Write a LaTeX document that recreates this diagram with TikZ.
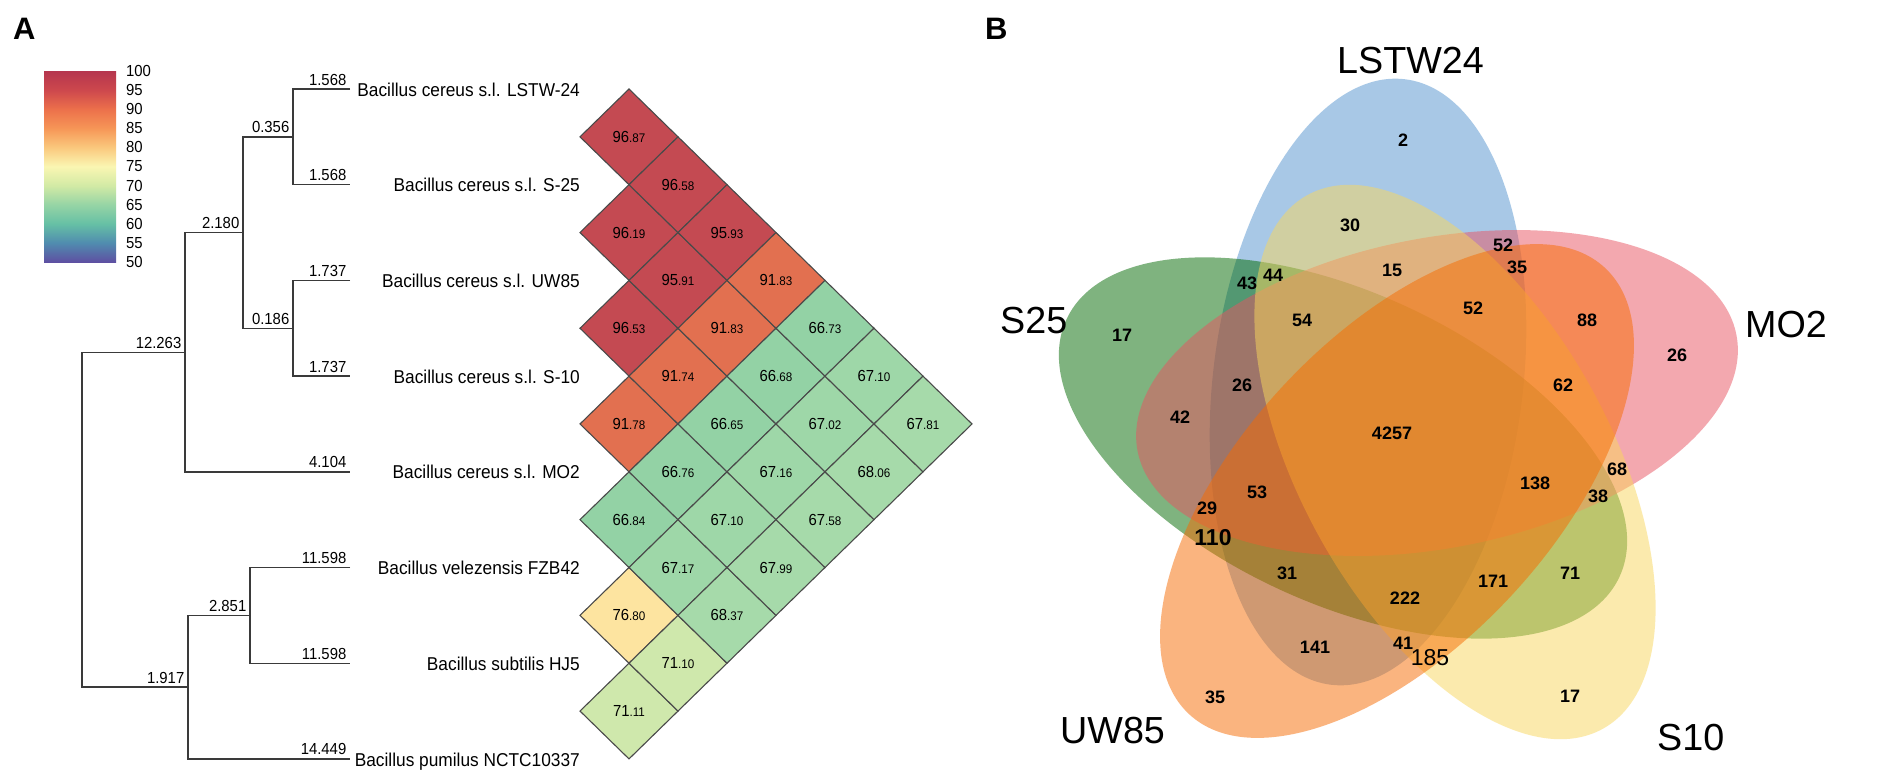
\documentclass[tikz,border=0pt]{standalone}
\usepackage{fontspec}
\setmainfont{Liberation Sans}
\newfontfamily\cond[FakeStretch=0.93]{Liberation Sans}
\definecolor{s100}{RGB}{181,54,78}
\definecolor{s95}{RGB}{205,72,77}
\definecolor{s90}{RGB}{236,112,75}
\definecolor{s85}{RGB}{246,150,87}
\definecolor{s80}{RGB}{250,200,125}
\definecolor{s75}{RGB}{250,246,178}
\definecolor{s70}{RGB}{210,234,165}
\definecolor{s65}{RGB}{150,212,165}
\definecolor{s60}{RGB}{102,192,165}
\definecolor{s55}{RGB}{80,140,175}
\definecolor{s50}{RGB}{94,80,162}
\pgfdeclareverticalshading{spectralbar}{100bp}{color(0bp)=(s50); color(25bp)=(s50); color(30bp)=(s55); color(35bp)=(s60); color(40bp)=(s65); color(45bp)=(s70); color(50bp)=(s75); color(55bp)=(s80); color(60bp)=(s85); color(65bp)=(s90); color(70bp)=(s95); color(75bp)=(s100); color(100bp)=(s100)}
\definecolor{hr}{HTML}{C44A52}
\definecolor{ho}{HTML}{E27050}
\definecolor{hgA}{HTML}{93D2A5}
\definecolor{hgB}{HTML}{9ED7A8}
\definecolor{hgC}{HTML}{A6DAAA}
\definecolor{hy}{HTML}{FDE4A0}
\definecolor{hl}{HTML}{CFE8AC}
\definecolor{treec}{HTML}{3A3A3A}
\definecolor{cellb}{HTML}{4A4A4A}
\definecolor{vblue}{RGB}{83,147,207}
\definecolor{vgreen}{RGB}{0,105,0}
\definecolor{vpink}{RGB}{233,83,97}
\definecolor{vyellow}{RGB}{249,215,93}
\definecolor{vorange}{RGB}{247,107,0}
\begin{document}
\begin{tikzpicture}[x=1pt,y=-1pt,
  tree/.style={draw=treec, line width=1.4pt},
  blen/.style={font=\cond\fontsize{16}{16}\selectfont, inner sep=0pt, anchor=base east},
  spec/.style={font=\cond\fontsize{18.6}{18.6}\selectfont, inner sep=0pt, anchor=base east},
  cbl/.style={font=\cond\fontsize{16}{16}\selectfont, inner sep=0pt, anchor=west},
  celltxt/.style={inner sep=0pt, text=black},
  cellpath/.style={draw=cellb, line width=1.1pt},
  panel/.style={font=\bfseries\fontsize{31}{31}\selectfont, inner sep=0pt, anchor=base west},
  setlab/.style={font=\fontsize{37.7}{37.7}\selectfont, inner sep=0pt, anchor=base west},
  vn/.style={font=\bfseries\fontsize{18}{18}\selectfont, inner sep=0pt},
  venn/.style={fill opacity=0.5}
]
\useasboundingbox (0,0) rectangle (1904,779);
\fill[white] (0,0) rectangle (1904,779);

% ---------- Panel A ----------
\node[panel] (labA) at (13,39) {A};

% colour bar
\path[shading=spectralbar] (44,71) rectangle (116,262);
\foreach \v [count=\k from 0] in {100,95,90,85,80,75,70,65,60,55,50}{
  \node[cbl] (cb\v) at (126,71+\k*19.1) {\v};
}

% leaves
\foreach \k in {0,...,7}{
  \coordinate (L\k) at (350,89+\k*95.7);
}
\coordinate (n01) at (293,136.85);
\coordinate (n23) at (293,328.25);
\coordinate (n0123) at (243,232.55);
\coordinate (n01234) at (185,352.2);
\coordinate (n56) at (250,615.35);
\coordinate (n567) at (188,687.1);
\coordinate (root) at (82,519.65);

\draw[tree] (L0) -| (n01) |- (L1);
\draw[tree] (L2) -| (n23) |- (L3);
\draw[tree] (n01) -| (n0123) |- (n23);
\draw[tree] (n0123) -| (n01234) |- (L4);
\draw[tree] (L5) -| (n56) |- (L6);
\draw[tree] (n56) -| (n567) |- (L7);
\draw[tree] (n01234) -| (root) |- (n567);

% branch lengths
\node[blen] (b0) at (346.5,85) {1.568};
\node[blen] (b1) at (346.5,180.7) {1.568};
\node[blen] (b2) at (346.5,276.4) {1.737};
\node[blen] (b3) at (346.5,372.1) {1.737};
\node[blen] (b4) at (346.5,467.8) {4.104};
\node[blen] (b5) at (346.5,563.5) {11.598};
\node[blen] (b6) at (346.5,659.2) {11.598};
\node[blen] (b7) at (346.5,754.9) {14.449};
\node[blen] (bn01) at (289.5,132.85) {0.356};
\node[blen] (bn23) at (289.5,324.25) {0.186};
\node[blen] (bn0123) at (239.5,228.55) {2.180};
\node[blen] (bn01234) at (181.5,348.2) {12.263};
\node[blen] (bn56) at (246.5,611.35) {2.851};
\node[blen] (bn567) at (184.5,683.1) {1.917};

% species
\node[spec] (sp0) at (580,96) {Bacillus cereus s.l. LSTW-24};
\node[spec] (sp1) at (580,191.7) {Bacillus cereus s.l. S-25};
\node[spec] (sp2) at (580,287.4) {Bacillus cereus s.l. UW85};
\node[spec] (sp3) at (580,383.1) {Bacillus cereus s.l. S-10};
\node[spec] (sp4) at (580,478.8) {Bacillus cereus s.l. MO2};
\node[spec] (sp5) at (580,574.5) {Bacillus velezensis FZB42};
\node[spec] (sp6) at (580,670.2) {Bacillus subtilis HJ5};
\node[spec] (sp7) at (580,766.4) {Bacillus pumilus NCTC10337};

% heat map
\foreach \i/\j/\a/\b/\c in {
 0/1/96/87/hr, 1/2/96/19/hr, 2/3/96/53/hr, 3/4/91/78/ho, 4/5/66/84/hgA, 5/6/76/80/hy, 6/7/71/11/hl,
 0/2/96/58/hr, 1/3/95/91/hr, 2/4/91/74/ho, 3/5/66/76/hgA, 4/6/67/17/hgB, 5/7/71/10/hl,
 0/3/95/93/hr, 1/4/91/83/ho, 2/5/66/65/hgA, 3/6/67/10/hgB, 4/7/68/37/hgC,
 0/4/91/83/ho, 1/5/66/68/hgA, 2/6/67/16/hgB, 3/7/67/99/hgC,
 0/5/66/73/hgA, 1/6/67/02/hgB, 2/7/67/58/hgC,
 0/6/67/10/hgB, 1/7/68/06/hgC,
 0/7/67/81/hgC}{
  \pgfmathsetmacro\cx{580+(\j-\i)*49}
  \pgfmathsetmacro\cy{89+(\i+\j)*47.85}
  \path[cellpath, fill=\c] (\cx-49,\cy) -- (\cx,\cy-47.85) -- (\cx+49,\cy) -- (\cx,\cy+47.85) -- cycle;
  \node[celltxt] (c\i\j) at (\cx,\cy) {\cond{\fontsize{16}{16}\selectfont\a}{\fontsize{12.5}{12.5}\selectfont.\b}};
}

% ---------- Panel B ----------
\node[panel] (labB) at (985,39) {B};

\fill[venn, fill=vblue, rotate around={83:(1368,382)}] (1368,382) ellipse [x radius=305pt, y radius=155pt];
\fill[venn, fill=vgreen, rotate around={155:(1343,448)}] (1343,448) ellipse [x radius=305pt, y radius=155pt];
\fill[venn, fill=vpink, rotate around={11:(1437,393)}] (1437,393) ellipse [x radius=305pt, y radius=155pt];
\fill[venn, fill=vyellow, rotate around={-61:(1455,462)}] (1455,462) ellipse [x radius=305pt, y radius=155pt];
\fill[venn, fill=vorange, rotate around={227:(1397,491)}] (1397,491) ellipse [x radius=305pt, y radius=155pt];

\node[setlab] (tLSTW) at (1337,73) {LSTW24};
\node[setlab] (tS25) at (1000,333) {S25};
\node[setlab] (tMO2) at (1745,337) {MO2};
\node[setlab] (tUW85) at (1060,743) {UW85};
\node[setlab] (tS10) at (1657,750) {S10};

\foreach \n/\x/\y in {a/1403/140, b/1350/225, c/1392/270, d/1247/283, e/1273/275, f/1302/320,
  g/1473/308, h/1122/335, i/1242/385, j/1503/245, k/1517/267, l/1587/320, m/1677/355,
  n/1563/385, o/1180/417, p/1392/433, q/1257/492, r/1207/508, s/1287/573, t/1405/598,
  u/1315/647, v/1403/643, w/1215/697, x/1617/469, y/1598/496, z/1535/483, A/1570/573,
  B/1493/581, C/1570/696}{
  \coordinate (p\n) at (\x,\y);
}
\node[vn] (v2) at (pa) {2};
\node[vn] (v30) at (pb) {30};
\node[vn] (v15) at (pc) {15};
\node[vn] (v43) at (pd) {43};
\node[vn] (v44) at (pe) {44};
\node[vn] (v54) at (pf) {54};
\node[vn] (v52a) at (pg) {52};
\node[vn] (v17a) at (ph) {17};
\node[vn] (v26a) at (pi) {26};
\node[vn] (v52b) at (pj) {52};
\node[vn] (v35a) at (pk) {35};
\node[vn] (v88) at (pl) {88};
\node[vn] (v26b) at (pm) {26};
\node[vn] (v62) at (pn) {62};
\node[vn] (v42) at (po) {42};
\node[vn] (v4257) at (pp) {4257};
\node[vn] (v53) at (pq) {53};
\node[vn] (v29) at (pr) {29};
\node[vn, font=\bfseries\fontsize{23}{23}\selectfont] (v110) at (1213,538) {110};
\node[vn] (v31) at (ps) {31};
\node[vn] (v222) at (pt) {222};
\node[vn] (v141) at (pu) {141};
\node[vn] (v41) at (pv) {41};
\node[vn, font=\fontsize{23}{23}\selectfont] (v185) at (1430,658) {185};
\node[vn] (v35b) at (pw) {35};
\node[vn] (v68) at (px) {68};
\node[vn] (v38) at (py) {38};
\node[vn] (v138) at (pz) {138};
\node[vn] (v71) at (pA) {71};
\node[vn] (v171) at (pB) {171};
\node[vn] (v17b) at (pC) {17};
\end{tikzpicture}
\end{document}
